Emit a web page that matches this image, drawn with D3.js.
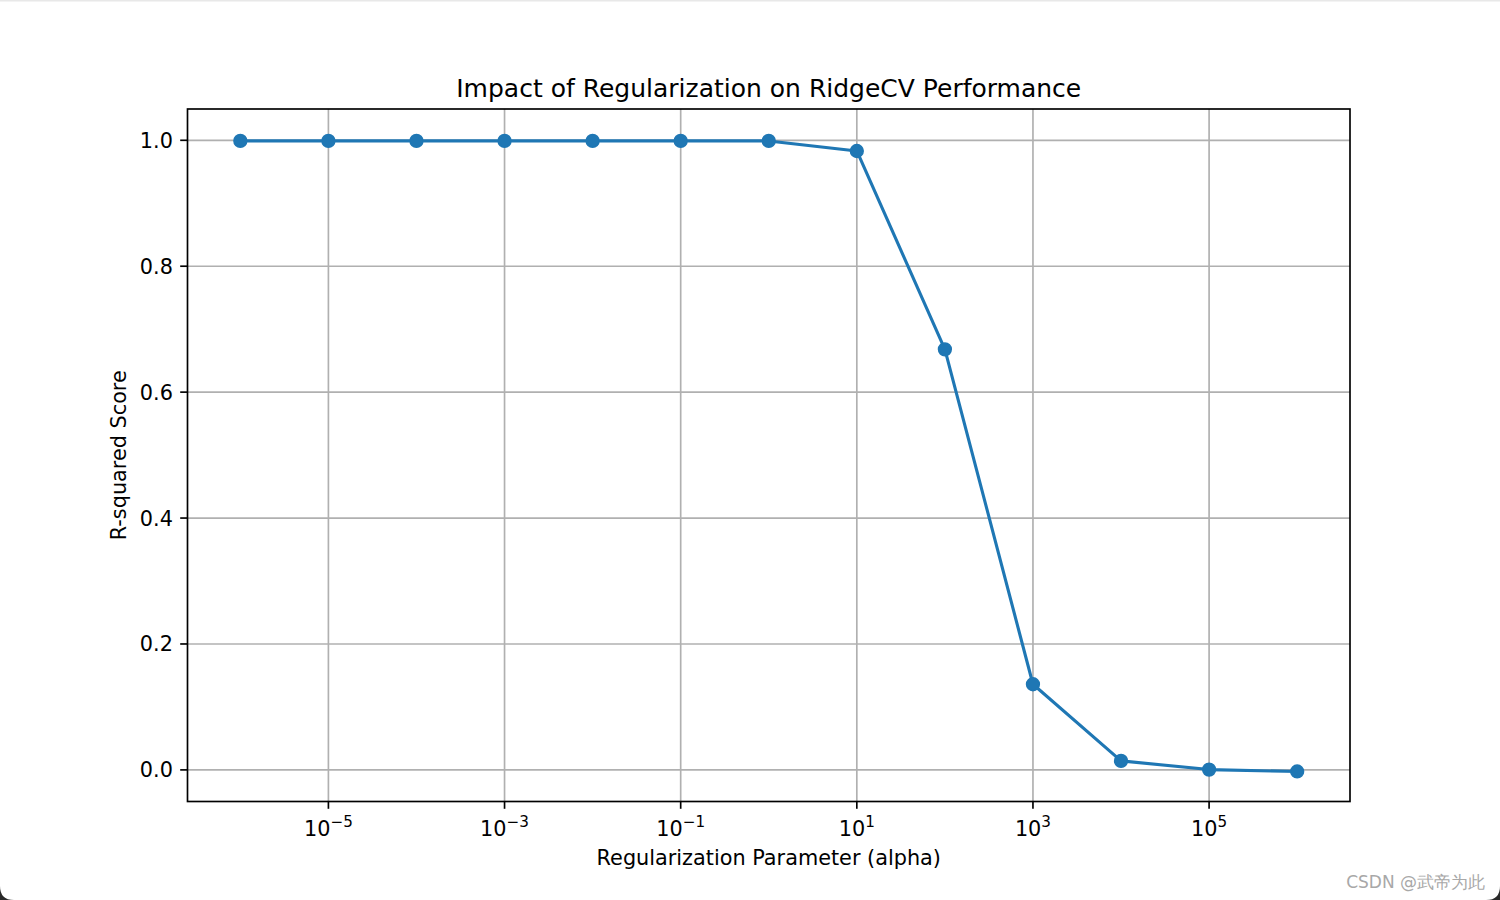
<!DOCTYPE html>
<html>
<head>
<meta charset="utf-8">
<script src="https://cdn.jsdelivr.net/npm/d3@7"></script>
<style>
  html, body { margin: 0; padding: 0; background: #ffffff; }
  svg { display: block; }
  text { font-family: "DejaVu Sans", sans-serif; }
</style>
</head>
<body>
<svg id="chart" width="1500" height="900"></svg>
<script>
// ---- data ----
const alphaExponents = [-6, -5, -4, -3, -2, -1, 0, 1, 2, 3, 4, 5, 6];
const alphas = alphaExponents.map(e => Math.pow(10, e));
const r2Scores = [0.999, 0.999, 0.999, 0.999, 0.999, 0.999, 0.999, 0.983, 0.668, 0.136, 0.0143, 0.0005, -0.0025];
const xTickExponents = [-5, -3, -1, 1, 3, 5];
const yTicks = [0.0, 0.2, 0.4, 0.6, 0.8, 1.0];
const titleText = "Impact of Regularization on RidgeCV Performance";
const xLabelText = "Regularization Parameter (alpha)";
const yLabelText = "R-squared Score";
const watermarkText = "CSDN @武帝为此";

// ---- layout ----
const W = 1500, H = 900;
const plot = { left: 187.5, right: 1350, top: 109, bottom: 801.5 };
const svg = d3.select("#chart");

// window frame look: dark bottom corners
svg.append("rect").attr("x", 0).attr("y", 0).attr("width", W).attr("height", H).attr("fill", "#2a2a2a");
svg.append("path")
  .attr("d", `M0,0 H${W} V${H - 14} Q${W},${H} ${W - 14},${H} H14 Q0,${H} 0,${H - 14} Z`)
  .attr("fill", "#ffffff");
svg.append("rect").attr("x", 0).attr("y", 0).attr("width", W).attr("height", 1.5).attr("fill", "#e8e8e8");

// ---- scales ----
const x = d3.scaleLog().domain([Math.pow(10, -6.6), Math.pow(10, 6.6)]).range([plot.left, plot.right]);
const y = d3.scaleLinear().domain([-0.0502, 1.0497]).range([plot.bottom, plot.top]);

const g = svg.append("g");

// grid
g.selectAll(".vgrid").data(xTickExponents).enter().append("line")
  .attr("x1", d => x(Math.pow(10, d))).attr("x2", d => x(Math.pow(10, d)))
  .attr("y1", plot.top).attr("y2", plot.bottom)
  .attr("stroke", "#b0b0b0").attr("stroke-width", 1.67);
g.selectAll(".hgrid").data(yTicks).enter().append("line")
  .attr("x1", plot.left).attr("x2", plot.right)
  .attr("y1", d => y(d)).attr("y2", d => y(d))
  .attr("stroke", "#b0b0b0").attr("stroke-width", 1.67);

// line
const line = d3.line().x((d, i) => x(alphas[i])).y(d => y(d));
g.append("path").datum(r2Scores)
  .attr("d", line).attr("fill", "none")
  .attr("stroke", "#1f77b4").attr("stroke-width", 3.1)
  .attr("stroke-linejoin", "round").attr("stroke-linecap", "square");

// markers
g.selectAll(".pt").data(r2Scores).enter().append("circle")
  .attr("cx", (d, i) => x(alphas[i])).attr("cy", d => y(d))
  .attr("r", 6.4).attr("fill", "#1f77b4")
  .attr("stroke", "#1f77b4").attr("stroke-width", 1.5);

// spines
g.append("rect")
  .attr("x", plot.left).attr("y", plot.top)
  .attr("width", plot.right - plot.left).attr("height", plot.bottom - plot.top)
  .attr("fill", "none").attr("stroke", "#000").attr("stroke-width", 1.67);

// x ticks
const xt = g.selectAll(".xt").data(xTickExponents).enter().append("g")
  .attr("transform", d => `translate(${x(Math.pow(10, d))},0)`);
xt.append("line").attr("y1", plot.bottom).attr("y2", plot.bottom + 7.3)
  .attr("stroke", "#000").attr("stroke-width", 1.67);
const xtl = xt.append("text").attr("y", 835.5).attr("text-anchor", "middle")
  .attr("font-size", 20.8).attr("fill", "#000");
xtl.append("tspan").text("10");
xtl.append("tspan").attr("dy", -9).attr("font-size", 15.2)
  .text(d => (d < 0 ? "\u2212" : "") + Math.abs(d));

// y ticks
const yt = g.selectAll(".yt").data(yTicks).enter().append("g")
  .attr("transform", d => `translate(0,${y(d)})`);
yt.append("line").attr("x1", plot.left - 7.3).attr("x2", plot.left)
  .attr("stroke", "#000").attr("stroke-width", 1.67);
yt.append("text").attr("x", plot.left - 14.6).attr("dy", "0.36em")
  .attr("text-anchor", "end").attr("font-size", 20.8).attr("fill", "#000")
  .text(d => d.toFixed(1));

// title & labels
svg.append("text").attr("x", (plot.left + plot.right) / 2).attr("y", 96.5)
  .attr("text-anchor", "middle").attr("font-size", 25).attr("fill", "#000").text(titleText);
svg.append("text").attr("x", (plot.left + plot.right) / 2).attr("y", 865)
  .attr("text-anchor", "middle").attr("font-size", 20.8).attr("fill", "#000").text(xLabelText);
svg.append("text")
  .attr("transform", `translate(126,${(plot.top + plot.bottom) / 2}) rotate(-90)`)
  .attr("text-anchor", "middle").attr("font-size", 20.8).attr("fill", "#000").text(yLabelText);

// watermark
svg.append("text").attr("x", 1485).attr("y", 888).attr("text-anchor", "end")
  .attr("font-family", "'Noto Sans CJK SC', sans-serif")
  .attr("font-size", 17).attr("fill", "#a8a8a8").text(watermarkText);
</script>
</body>
</html>
